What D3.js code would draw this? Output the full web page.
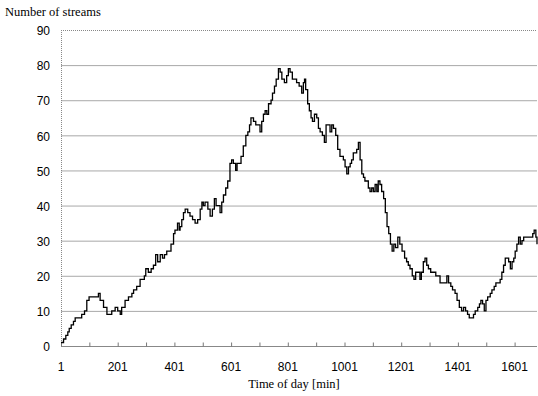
<!DOCTYPE html>
<html>
<head>
<meta charset="utf-8">
<script src="https://cdn.jsdelivr.net/npm/d3@7"></script>
<style>
  html, body { margin: 0; padding: 0; background: #fff; }
  svg { display: block; }
</style>
</head>
<body>
<svg id="chart" width="538" height="396"></svg>
<script>
const minutes = [1,4,10,18,25,30,37,45,51,69,74,84,92,100,127,133,139,151,163,172,180,192,201,210,215,227,239,251,257,268,280,286,295,300,309,319,327,335,342,351,359,366,374,380,389,398,403,412,418,
  421,427,433,439,448,456,465,474,483,492,498,503,509,519,527,535,542,548,556,562,568,574,582,589,597,603,609,617,622,629,636,644,653,660,666,671,680,688,697,703,709,715,721,727,733,742,747,754,760,768,774,780,789,797,803,809,817,824,832,841,
  844,850,856,860,864,871,877,883,888,895,903,909,915,923,930,936,944,950,956,962,970,977,985,991,997,1003,1009,1015,1021,1026,1032,1038,1044,1050,1056,1062,1068,1073,1079,1085,1091,1097,1103,1109,1115,1120,1126,1132,1139,1145,1151,1157,1163,1169,1175,1181,1189,1196,1204,1213,1220,1226,1232,1240,1246,1252,1260,1267,
  1272,1279,1285,1291,1297,1305,1315,1323,1331,1338,1346,1355,1362,1368,1376,1382,1391,1398,1406,1414,1421,1428,1435,1441,1456,1462,1471,1477,1482,1488,1494,1500,1506,1515,1521,1529,1535,1541,1550,1556,1562,1568,1580,1586,1592,1598,1603,1609,1615,1621,1627,1633,1639,1645,1651,1656,1665,1670,1676,1680];
const streams = [1,1,2,3,4,5,6,7,8,8,9,10,13,14,14,15,13,11,9,9,10,11,10,9,11,13,14,15,16,17,19,19,20,22,21,22,23,26,24,26,25,26,27,27,29,32,33,35,33,
  34,36,38,39,38,37,36,35,36,39,41,40,41,39,37,39,42,40,40,38,41,43,45,47,52,53,52,50,52,52,54,57,60,61,63,65,64,63,63,61,64,66,67,66,69,70,72,74,76,79,78,76,75,77,79,78,76,76,75,74,
  74,72,75,76,73,69,67,65,64,66,65,62,61,60,58,63,63,61,63,62,60,56,54,54,53,51,49,51,52,53,55,55,56,58,53,49,48,47,47,45,44,45,44,46,44,47,46,44,42,38,34,32,29,27,29,28,31,29,27,25,24,23,22,20,19,21,21,19,
  21,24,25,23,22,21,21,20,20,18,18,18,20,18,17,16,15,13,11,10,11,10,9,8,9,10,11,12,13,12,10,13,14,15,16,17,18,18,19,21,23,25,24,22,24,25,27,29,31,29,30,31,31,31,31,31,32,33,31,29];
const yTicks = [0,10,20,30,40,50,60,70,80,90];
const xLabelTicks = [1,201,401,601,801,1001,1201,1401,1601];
const xMinorTicks = [1,101,201,301,401,501,601,701,801,901,1001,1101,1201,1301,1401,1501,1601];
const yTitle = "Number of streams";
const xTitle = "Time of day [min]";

const svg = d3.select("#chart");
const mLeft = 61, mRight = 537, mTop = 30, mBottom = 346;
const x = d3.scaleLinear().domain([1, 1680]).range([mLeft, mRight]);
const y = d3.scaleLinear().domain([0, 90]).range([mBottom, mTop]);

// gridlines
svg.append("g").selectAll("line").data(yTicks.filter(d => d > 0)).join("line")
  .attr("x1", mLeft).attr("x2", mRight)
  .attr("y1", d => y(d) + 0.5).attr("y2", d => y(d) + 0.5)
  .attr("stroke", d => d === 90 ? "#888" : "#a8a8a8").attr("stroke-width", 1)
  .attr("stroke-dasharray", d => d === 90 ? "1,1" : null);

// left axis line
svg.append("line").attr("x1", mLeft + 0.5).attr("x2", mLeft + 0.5).attr("y1", mTop).attr("y2", mBottom + 0.5)
  .attr("stroke", "#888").attr("stroke-dasharray", "1,1");

// y labels
svg.append("g").selectAll("text").data(yTicks).join("text")
  .attr("x", 50).attr("y", d => y(d) + 1).attr("dy", "0.35em")
  .attr("text-anchor", "end")
  .attr("font-family", "Liberation Sans, Arial, sans-serif").attr("font-size", 12)
  .attr("fill", "#000").text(d => d);

// bottom axis
const xAxis = d3.axisBottom(x).tickValues(xMinorTicks).tickSizeInner(-4).tickSizeOuter(0).tickFormat("");
const gx = svg.append("g").attr("transform", `translate(0,${mBottom + 0.5})`).call(xAxis);
gx.select(".domain").attr("stroke", "#888").attr("d", `M${mLeft},0H${mRight}`);
gx.selectAll(".tick line").attr("stroke", "#777");

svg.append("g").selectAll("text").data(xLabelTicks).join("text")
  .attr("x", d => x(d)).attr("y", 367).attr("dy", "0.35em")
  .attr("text-anchor", "middle")
  .attr("font-family", "Liberation Sans, Arial, sans-serif").attr("font-size", 12)
  .attr("fill", "#000").text(d => d);

// line
const data = minutes.map((m, i) => ({m, v: streams[i]}));
const line = d3.line().x(d => x(d.m)).y(d => y(d.v)).curve(d3.curveStepAfter);
svg.append("path").datum(data).attr("d", line)
  .attr("fill", "none").attr("stroke", "#000").attr("stroke-width", 1.3);

// titles
svg.append("text").attr("x", 5).attr("y", 16)
  .attr("font-family", "Liberation Serif, Times New Roman, serif").attr("font-size", 12.5)
  .attr("fill", "#000").text(yTitle);
svg.append("text").attr("x", 294).attr("y", 388).attr("text-anchor", "middle")
  .attr("font-family", "Liberation Serif, Times New Roman, serif").attr("font-size", 12.5)
  .attr("fill", "#000").text(xTitle);
</script>
</body>
</html>
